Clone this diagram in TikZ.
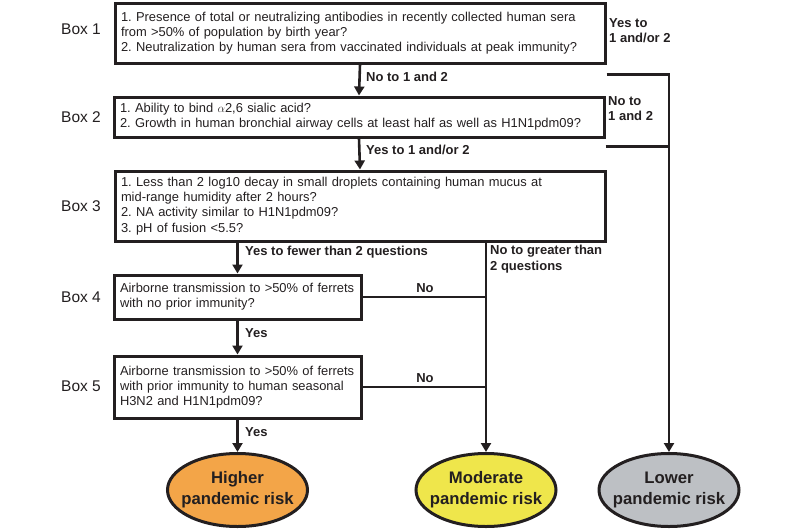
\documentclass[tikz,border=0pt]{standalone}
\usepackage{fontspec}
\setmainfont{Liberation Sans}
\usetikzlibrary{arrows.meta,shapes.geometric}
\definecolor{hiorange}{HTML}{F3A548}
\definecolor{modyellow}{HTML}{EFE64B}
\definecolor{lowgray}{HTML}{BDC0C4}
\definecolor{ink}{HTML}{231F20}
\frenchspacing
\begin{document}
\begin{tikzpicture}[x=1pt,y=-1pt,
  qbox/.style={draw=ink,line width=3pt,inner xsep=6pt,inner ysep=0pt,align=left,
    font=\fontsize{12.9}{15.3}\selectfont,text=ink},
  boxlabel/.style={font=\fontsize{15.5}{18}\selectfont,text=ink},
  lab/.style={font=\bfseries\fontsize{13}{15.5}\selectfont,text=ink,align=left,inner sep=0pt},
  outcome/.style={ellipse,draw=ink,line width=3pt,minimum width=140pt,minimum height=73pt,
    align=center,font=\bfseries\fontsize{16.7}{21}\selectfont,text=ink,
    inner xsep=-16pt,inner ysep=0pt},
  conn/.style={draw=ink,line width=2.6pt},
  arr/.style={conn,-{Triangle[width=10pt,length=9pt]}}]
\useasboundingbox (0,0) rectangle (800,530);

% question boxes
\node[qbox,minimum width=490pt,minimum height=60pt,text width=478pt] (b1) at (360,33)
  {1. Presence of total or neutralizing antibodies in recently collected human sera\\
   from >50\% of population by birth year?\\
   2. Neutralization by human sera from vaccinated individuals at peak immunity?};
\node[qbox,minimum width=490pt,minimum height=40pt,text width=478pt] (b2) at (359,117)
  {1. Ability to bind $\alpha$2,6 sialic acid?\\
   2. Growth in human bronchial airway cells at least half as well as H1N1pdm09?};
\node[qbox,minimum width=490pt,minimum height=70pt,text width=478pt] (b3) at (360,206)
  {1. Less than 2 log10 decay in small droplets containing human mucus at\\
   mid-range humidity after 2 hours?\\
   2. NA activity similar to H1N1pdm09?\\
   3. pH of fusion <5.5?};
\node[qbox,minimum width=247pt,minimum height=44pt,text width=235pt] (b4) at (237.5,297)
  {Airborne transmission to >50\% of ferrets\\
   with no prior immunity?};
\node[qbox,minimum width=247pt,minimum height=62pt,text width=235pt] (b5) at (237.5,387)
  {Airborne transmission to >50\% of ferrets\\
   with prior immunity to human seasonal\\
   H3N2 and H1N1pdm09?};

% box labels
\node[boxlabel] (l1) at (81,29) {Box 1};
\node[boxlabel] (l2) at (81,117) {Box 2};
\node[boxlabel] (l3) at (81,206) {Box 3};
\node[boxlabel] (l4) at (81,297) {Box 4};
\node[boxlabel] (l5) at (81,386) {Box 5};

% outcomes
\node[outcome,fill=hiorange] (hi) at (237.5,490) {Higher\\pandemic risk};
\node[outcome,fill=modyellow] (mod) at (486,490) {Moderate\\pandemic risk};
\node[outcome,fill=lowgray] (low) at (669,490) {Lower\\pandemic risk};

% connectors
\draw[arr] (b1.south) -- (b2.north);
\draw[arr] (b2.south) -- (b3.north);
\draw[arr] (b3.south -| b4.north) -- (b4.north);
\draw[arr] (b4.south) -- (b5.north);
\draw[arr] (b5.south) -- (hi.north);
\draw[arr] (b3.south -| mod.north) -- (mod.north);
\draw[conn] (b4.east) -- (b4.east -| mod.north);
\draw[conn] (b5.east) -- (b5.east -| mod.north);
\coordinate (c1) at ([yshift=-10pt]b1.south east);
\coordinate (c2) at ([yshift=-8pt]b2.south east);
\draw[arr] (c1) -- (c1 -| low.north) -- (low.north);
\draw[conn] (c2) -- (c2 -| low.north);

% connector labels
\node[lab,anchor=west] (t1) at (366,77) {No to 1 and 2};
\node[lab,anchor=west] (t2) at (366,150) {Yes to 1 and/or 2};
\node[lab,anchor=north west] (t3) at (609,18) {Yes to\\1 and/or 2};
\node[lab,anchor=north west] (t4) at (608,96) {No to\\1 and 2};
\node[lab,anchor=west] (t5) at (245,252) {Yes to fewer than 2 questions};
\node[lab,anchor=north west] (t6) at (490,245) {No to greater than\\2 questions};
\node[lab] (t7) at (425,288) {No};
\node[lab] (t8) at (425,378) {No};
\node[lab,anchor=west] (t9) at (245,333) {Yes};
\node[lab,anchor=west] (t10) at (245,432) {Yes};
\end{tikzpicture}
\end{document}
